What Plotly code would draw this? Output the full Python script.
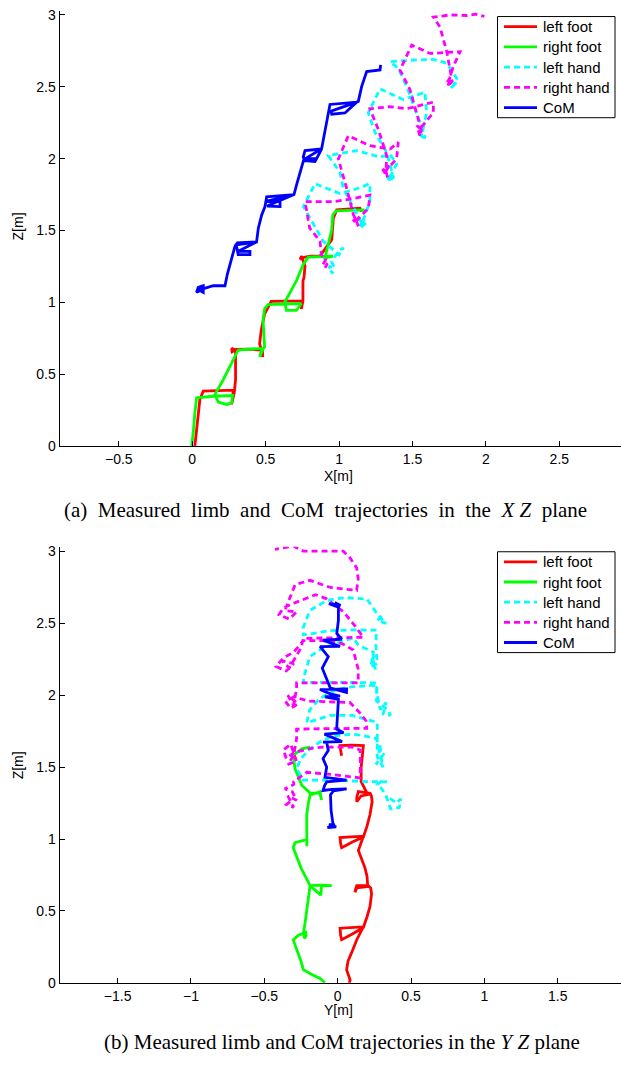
import plotly.graph_objects as go

# ---------------- measured trajectories, XZ plane (x [m], z [m]) ----------------
left_foot_xz = [
    (0.018, 0.0), (0.03, 0.117), (0.041, 0.232), (0.052, 0.323), (0.075, 0.381),
    (0.18, 0.385), (0.279, 0.388), (0.275, 0.33), (0.268, 0.289), (0.286, 0.37),
    (0.295, 0.461), (0.295, 0.668), (0.268, 0.679), (0.272, 0.655), (0.30, 0.672),
    (0.377, 0.674), (0.479, 0.668), (0.479, 0.62), (0.47, 0.66), (0.459, 0.714),
    (0.47, 0.805), (0.493, 0.92), (0.538, 1.007), (0.64, 1.008), (0.743, 1.01),
    (0.743, 0.954), (0.754, 1.01), (0.754, 1.149), (0.761, 1.172), (0.768, 1.253),
    (0.745, 1.321), (0.734, 1.298), (0.75, 1.31), (0.80, 1.321), (0.87, 1.321),
    (0.95, 1.436), (0.961, 1.585), (0.984, 1.643), (1.06, 1.65), (1.142, 1.654),
    (1.153, 1.63),
]
right_foot_xz = [
    (-0.004, 0.0), (0.007, 0.094), (0.018, 0.232), (0.03, 0.335), (0.143, 0.346),
    (0.275, 0.351), (0.268, 0.30), (0.234, 0.289), (0.177, 0.305), (0.154, 0.358),
    (0.211, 0.461), (0.268, 0.576), (0.313, 0.668), (0.40, 0.675), (0.484, 0.679),
    (0.459, 0.62), (0.47, 0.66), (0.493, 0.69), (0.482, 0.874), (0.493, 0.954),
    (0.516, 0.984), (0.63, 0.988), (0.743, 0.99), (0.709, 0.943), (0.641, 0.943),
    (0.63, 1.0), (0.675, 1.08), (0.709, 1.149), (0.756, 1.264), (0.79, 1.314),
    (0.88, 1.318), (0.961, 1.321), (0.904, 1.309), (0.927, 1.40), (0.95, 1.505),
    (0.957, 1.608), (0.98, 1.636), (1.07, 1.64), (1.165, 1.643), (1.176, 1.62),
]
left_hand_xz = [
    (0.94, 1.22), (0.96, 1.20), (0.93, 1.25), (0.97, 1.24), (0.95, 1.28),
    (0.995, 1.356), (1.03, 1.38), (1.0, 1.33), (0.892, 1.425), (0.802, 1.585),
    (0.757, 1.666), (0.836, 1.826), (1.006, 1.757), (1.12, 1.79), (1.21, 1.826),
    (1.21, 1.70), (1.16, 1.56), (1.14, 1.53), (1.17, 1.58), (1.15, 1.52),
    (1.18, 1.55), (1.154, 1.551), (1.029, 1.792), (1.006, 1.906), (0.926, 2.021),
    (1.12, 2.056), (1.279, 2.01), (1.347, 2.03), (1.392, 1.963), (1.35, 1.88),
    (1.33, 1.85), (1.36, 1.90), (1.34, 1.84), (1.37, 1.87), (1.324, 2.044),
    (1.245, 2.182), (1.199, 2.319), (1.279, 2.485), (1.437, 2.411), (1.585, 2.462),
    (1.596, 2.319), (1.57, 2.18), (1.56, 2.15), (1.59, 2.17), (1.58, 2.14),
    (1.57, 2.20), (1.46, 2.503), (1.403, 2.629), (1.347, 2.675), (1.50, 2.685),
    (1.642, 2.691), (1.733, 2.664), (1.801, 2.56), (1.78, 2.51), (1.76, 2.49),
    (1.79, 2.53), (1.80, 2.50), (1.775, 2.52),
]
right_hand_xz = [
    (0.905, 1.24), (0.92, 1.27), (0.89, 1.26), (0.91, 1.30), (0.88, 1.33),
    (0.87, 1.425), (0.80, 1.516), (0.768, 1.70), (0.86, 1.70), (0.961, 1.70),
    (1.09, 1.72), (1.21, 1.746), (1.205, 1.70), (1.199, 1.654), (1.13, 1.58),
    (1.11, 1.55), (1.14, 1.60), (1.10, 1.57), (1.13, 1.53), (1.12, 1.562),
    (1.098, 1.608), (1.052, 1.792), (0.995, 1.998), (1.063, 2.159), (1.14, 2.12),
    (1.21, 2.09), (1.347, 2.067), (1.403, 2.113), (1.392, 1.998), (1.33, 1.93),
    (1.31, 1.90), (1.34, 1.95), (1.30, 1.92), (1.33, 1.87), (1.32, 1.91),
    (1.324, 2.021), (1.267, 2.204), (1.21, 2.347), (1.347, 2.361), (1.46, 2.347),
    (1.642, 2.393), (1.642, 2.319), (1.56, 2.22), (1.54, 2.18), (1.57, 2.19),
    (1.53, 2.23), (1.55, 2.16), (1.56, 2.20), (1.483, 2.48), (1.415, 2.617),
    (1.495, 2.79), (1.619, 2.732), (1.824, 2.744), (1.778, 2.641), (1.75, 2.55),
    (1.73, 2.52), (1.76, 2.57), (1.74, 2.50), (1.77, 2.54), (1.733, 2.747),
    (1.687, 2.916), (1.642, 2.985), (1.755, 3.0), (1.869, 2.996), (1.93, 3.005),
    (1.99, 2.99),
]
com_xz = [
    (0.052, 1.081), (0.029, 1.069), (0.041, 1.104), (0.075, 1.115), (0.075, 1.069),
    (0.045, 1.085), (0.143, 1.115), (0.223, 1.115), (0.239, 1.195), (0.268, 1.31),
    (0.291, 1.39), (0.307, 1.413), (0.438, 1.42), (0.313, 1.355), (0.393, 1.355),
    (0.393, 1.332), (0.313, 1.332), (0.30, 1.40), (0.438, 1.42), (0.45, 1.516),
    (0.473, 1.608), (0.495, 1.665), (0.507, 1.734), (0.693, 1.75), (0.495, 1.70),
    (0.598, 1.70), (0.598, 1.666), (0.51, 1.67), (0.693, 1.75), (0.71, 1.815),
    (0.745, 1.952), (0.761, 1.998), (0.847, 2.0), (0.836, 1.98), (0.77, 1.985),
    (0.756, 2.01), (0.768, 2.056), (0.881, 2.067), (0.847, 2.0), (0.77, 2.0),
    (0.881, 2.067), (0.892, 2.124), (0.927, 2.297), (0.938, 2.377), (1.12, 2.393),
    (1.04, 2.318), (0.95, 2.309), (0.945, 2.33), (1.12, 2.393), (1.131, 2.398),
    (1.154, 2.503), (1.188, 2.606), (1.279, 2.617), (1.283, 2.652),
]

# ---------------- measured trajectories, YZ plane (y [m], z [m]) ----------------
left_foot_yz = [
    (0.079, 0.0), (0.085, 0.02), (0.061, 0.09), (0.07, 0.15), (0.095, 0.21),
    (0.13, 0.30), (0.175, 0.39), (0.10, 0.385), (0.016, 0.38), (0.02, 0.33),
    (0.027, 0.30), (0.10, 0.34), (0.175, 0.385), (0.20, 0.46), (0.22, 0.53),
    (0.231, 0.62), (0.225, 0.66), (0.208, 0.676), (0.13, 0.676), (0.12, 0.645),
    (0.118, 0.63), (0.13, 0.66), (0.205, 0.67), (0.20, 0.74), (0.186, 0.80),
    (0.141, 0.92), (0.16, 0.98), (0.175, 1.02), (0.09, 1.015), (0.016, 1.01),
    (0.02, 0.97), (0.027, 0.94), (0.10, 0.98), (0.175, 1.015), (0.20, 1.09),
    (0.22, 1.169), (0.235, 1.26), (0.23, 1.30), (0.221, 1.318), (0.141, 1.33),
    (0.13, 1.29), (0.13, 1.26), (0.16, 1.30), (0.205, 1.31), (0.16, 1.40),
    (0.16, 1.50), (0.17, 1.60), (0.175, 1.65), (0.10, 1.653), (0.016, 1.651),
    (0.02, 1.62), (0.027, 1.58),
]
right_foot_yz = [
    (-0.087, 0.0), (-0.12, 0.03), (-0.18, 0.06), (-0.234, 0.092), (-0.25, 0.15),
    (-0.269, 0.206), (-0.303, 0.298), (-0.27, 0.33), (-0.234, 0.344), (-0.22, 0.36),
    (-0.215, 0.33), (-0.225, 0.31), (-0.234, 0.344), (-0.223, 0.413), (-0.21, 0.50),
    (-0.20, 0.596), (-0.188, 0.676), (-0.11, 0.68), (-0.041, 0.676), (-0.11, 0.674),
    (-0.11, 0.64), (-0.115, 0.61), (-0.188, 0.676), (-0.25, 0.80), (-0.303, 0.94),
    (-0.291, 0.975), (-0.211, 0.997), (-0.21, 0.95), (-0.211, 0.997), (-0.211, 1.08),
    (-0.211, 1.169), (-0.20, 1.25), (-0.188, 1.307), (-0.121, 1.329), (-0.11, 1.272),
    (-0.121, 1.32), (-0.188, 1.32), (-0.245, 1.375), (-0.291, 1.49), (-0.303, 1.582),
    (-0.245, 1.628), (-0.188, 1.639),
]
left_hand_yz = [
    (0.357, 1.284), (0.40, 1.25), (0.43, 1.28), (0.42, 1.22), (0.36, 1.21),
    (0.33, 1.30), (0.30, 1.35), (0.27, 1.38), (0.31, 1.41), (0.334, 1.398),
    (0.20, 1.40), (0.10, 1.405), (-0.05, 1.41), (-0.234, 1.41), (-0.28, 1.49),
    (-0.25, 1.56), (-0.189, 1.628), (-0.10, 1.69), (-0.007, 1.72), (0.10, 1.73),
    (0.17, 1.72), (0.26, 1.70), (0.288, 1.65), (0.30, 1.55), (0.26, 1.52),
    (0.32, 1.60), (0.28, 1.62), (0.31, 1.50), (0.27, 1.57), (0.27, 1.70),
    (0.27, 1.811), (0.10, 1.86), (-0.05, 1.86), (-0.211, 1.81), (-0.19, 1.90),
    (-0.12, 1.98), (-0.007, 2.04), (0.10, 2.06), (0.265, 2.07), (0.265, 1.96),
    (0.30, 1.93), (0.34, 1.90), (0.36, 1.86), (0.31, 1.87), (0.33, 1.95),
    (0.29, 1.90), (0.27, 2.00), (0.265, 2.086), (0.10, 2.09), (-0.05, 2.09),
    (-0.234, 2.09), (-0.23, 2.13), (-0.189, 2.27), (-0.10, 2.33), (-0.007, 2.361),
    (0.106, 2.40), (0.14, 2.35), (0.243, 2.30), (0.24, 2.25), (0.26, 2.18),
    (0.23, 2.24), (0.25, 2.28), (0.22, 2.20), (0.27, 2.22), (0.26, 2.35),
    (0.265, 2.453), (0.10, 2.455), (-0.05, 2.45), (-0.234, 2.42), (-0.234, 2.476),
    (-0.19, 2.59), (-0.075, 2.66), (0.05, 2.68), (0.198, 2.67), (0.22, 2.64),
    (0.26, 2.58), (0.30, 2.53), (0.33, 2.50), (0.27, 2.52), (0.31, 2.56),
    (0.29, 2.54),
]
right_hand_yz = [
    (-0.325, 1.261), (-0.35, 1.24), (-0.30, 1.22), (-0.34, 1.30), (-0.28, 1.27),
    (-0.31, 1.33), (-0.36, 1.35), (-0.30, 1.38), (-0.30, 1.40), (-0.21, 1.465),
    (-0.05, 1.45), (0.152, 1.426), (0.155, 1.52), (0.152, 1.62), (0.10, 1.64),
    (-0.10, 1.64), (-0.19, 1.63), (-0.30, 1.60), (-0.35, 1.56), (-0.37, 1.62),
    (-0.32, 1.66), (-0.28, 1.54), (-0.34, 1.52), (-0.30, 1.58), (-0.28, 1.70),
    (-0.28, 1.765), (-0.10, 1.768), (0.10, 1.77), (0.198, 1.77), (0.195, 1.82),
    (0.15, 1.88), (0.083, 1.95), (-0.05, 1.955), (-0.20, 1.96), (-0.30, 1.99),
    (-0.35, 1.95), (-0.32, 1.91), (-0.27, 1.94), (-0.34, 2.00), (-0.30, 1.93),
    (-0.28, 2.05), (-0.28, 2.086), (-0.10, 2.086), (0.05, 2.086), (0.14, 2.086),
    (0.14, 2.18), (0.106, 2.315), (0.03, 2.36), (-0.10, 2.38), (-0.234, 2.38),
    (-0.30, 2.30), (-0.37, 2.26), (-0.42, 2.20), (-0.35, 2.17), (-0.30, 2.22),
    (-0.38, 2.24), (-0.33, 2.19), (-0.25, 2.33), (-0.234, 2.396), (-0.05, 2.40),
    (0.10, 2.40), (0.175, 2.404), (0.12, 2.48), (0.04, 2.58), (-0.075, 2.671),
    (-0.15, 2.70), (-0.30, 2.64), (-0.37, 2.61), (-0.40, 2.56), (-0.33, 2.53),
    (-0.28, 2.58), (-0.36, 2.59), (-0.29, 2.77), (-0.189, 2.80), (-0.05, 2.75),
    (0.129, 2.73), (0.14, 2.81), (0.129, 2.888), (0.083, 2.957), (0.038, 3.003),
    (-0.10, 3.003), (-0.234, 3.003), (-0.302, 3.038), (-0.427, 3.015),
]
com_yz = [
    (-0.041, 1.089), (-0.07, 1.08), (-0.01, 1.085), (-0.06, 1.10), (-0.02, 1.10),
    (-0.05, 1.075), (-0.03, 1.09), (-0.045, 1.20), (-0.049, 1.307), (-0.03, 1.335),
    (0.061, 1.349), (-0.04, 1.345), (-0.10, 1.338), (-0.09, 1.37), (-0.075, 1.398),
    (0.061, 1.41), (-0.087, 1.43), (-0.075, 1.50), (-0.10, 1.56), (-0.064, 1.617),
    (-0.075, 1.673), (-0.10, 1.675), (0.03, 1.678), (-0.09, 1.73), (0.04, 1.74),
    (-0.007, 1.765), (0.0, 1.86), (0.005, 1.972), (-0.087, 1.99), (0.016, 1.995),
    (-0.05, 2.01), (-0.121, 2.04), (0.061, 2.045), (0.06, 2.02), (-0.05, 2.05),
    (-0.075, 2.109), (-0.105, 2.189), (-0.064, 2.269), (-0.12, 2.338), (0.016, 2.34),
    (-0.10, 2.384), (0.027, 2.39), (-0.006, 2.43), (0.005, 2.522), (0.005, 2.613),
    (-0.06, 2.637), (0.02, 2.625), (-0.02, 2.645),
]

series_names = ["left foot", "right foot", "left hand", "right hand", "CoM"]
series_colors = ["#ff0000", "#00ff00", "#00ffff", "#ff00ff", "#0000ff"]
series_dash = ["solid", "solid", "6px,4px", "6px,4px", "solid"]

xz_series = [left_foot_xz, right_foot_xz, left_hand_xz, right_hand_xz, com_xz]
yz_series = [left_foot_yz, right_foot_yz, left_hand_yz, right_hand_yz, com_yz]

x_ticks = [-0.5, 0, 0.5, 1, 1.5, 2, 2.5]
y_ticks = [-1.5, -1, -0.5, 0, 0.5, 1, 1.5]
z_ticks = [0, 0.5, 1, 1.5, 2, 2.5, 3]

W, H = 621, 1065
LINE_W = 2.8
fig = go.Figure()

for pts, name, color, dash in zip(xz_series, series_names, series_colors, series_dash):
    fig.add_trace(go.Scatter(
        x=[p[0] for p in pts], y=[p[1] for p in pts], mode="lines", name=name,
        line=dict(color=color, width=LINE_W, dash=dash), xaxis="x", yaxis="y",
        showlegend=False))

for pts, name, color, dash in zip(yz_series, series_names, series_colors, series_dash):
    fig.add_trace(go.Scatter(
        x=[p[0] for p in pts], y=[p[1] for p in pts], mode="lines", name=name,
        line=dict(color=color, width=LINE_W, dash=dash), xaxis="x2", yaxis="y2",
        showlegend=False))

tick_font = dict(family="Liberation Sans, Arial, sans-serif", size=14, color="black")
axis_common = dict(showline=True, linecolor="black", linewidth=1, mirror=False,
                   ticks="inside", ticklen=5, tickcolor="black", tickwidth=1,
                   showgrid=False, zeroline=False, tickfont=tick_font, fixedrange=True)

x_left = 59.5 / W
top_dom = [(H - 447) / H, (H - 6.7) / H]
bot_dom = [(H - 990) / H, (H - 549) / H]

fig.update_layout(
    width=W, height=H, margin=dict(l=0, r=0, t=0, b=0),
    paper_bgcolor="white", plot_bgcolor="white", showlegend=False,
    xaxis=dict(domain=[x_left, 1], range=[-0.904, 2.92], tickvals=x_ticks,
               anchor="y", **axis_common),
    yaxis=dict(domain=top_dom, range=[0, 3.03], tickvals=z_ticks,
               anchor="x", **axis_common),
    xaxis2=dict(domain=[x_left, 1], range=[-1.896, 1.931], tickvals=y_ticks,
                anchor="y2", **axis_common),
    yaxis2=dict(domain=bot_dom, range=[0, 3.033], tickvals=z_ticks,
                anchor="x2", **axis_common),
)

label_font = dict(family="Liberation Sans, Arial, sans-serif", size=14, color="black")
legend_font = dict(family="Liberation Sans, Arial, sans-serif", size=15, color="black")
caption_font = dict(family="Liberation Serif, Times New Roman, serif", size=21, color="black")


def px_note(text, x, y, font, angle=0, xanchor="center"):
    fig.add_annotation(text=text, x=x / W, y=1 - y / H, xref="paper", yref="paper",
                       showarrow=False, font=font, textangle=angle,
                       xanchor=xanchor, yanchor="middle")


def px_line(x0, y0, x1, y1, color, width, dash="solid"):
    fig.add_shape(type="line", xref="paper", yref="paper",
                  x0=x0 / W, x1=x1 / W, y0=1 - y0 / H, y1=1 - y1 / H,
                  line=dict(color=color, width=width, dash=dash), layer="above")


def boxed_legend(top, bottom):
    # framed key in the upper-right corner of a panel (pixel coordinates)
    fig.add_shape(type="rect", xref="paper", yref="paper",
                  x0=497.5 / W, x1=615 / W, y0=1 - bottom / H, y1=1 - top / H,
                  line=dict(color="black", width=1), fillcolor="white", layer="above")
    step = (bottom - top) / 5
    for i, (name, color, dash) in enumerate(zip(series_names, series_colors, series_dash)):
        yc = top + step * (i + 0.5)
        px_line(504, yc, 537, yc, color, LINE_W, dash)
        px_note(name, 541, yc, legend_font, xanchor="left")


boxed_legend(12.7, 115)
boxed_legend(554, 656)

px_note("Z[m]", 18, 225, label_font, angle=-90)
px_note("X[m]", 338, 477, label_font)
px_note("Z[m]", 18, 770, label_font, angle=-90)
px_note("Y[m]", 338, 1017, label_font)

sp = "\u2002"
px_note(sp.join(["(a)", "Measured", "limb", "and", "CoM", "trajectories", "in", "the",
                 "<i>X Z</i>", "plane"]), 62, 512, caption_font, xanchor="left")
px_note("(b) Measured limb and CoM trajectories in the <i>Y Z</i> plane",
        102, 1050, caption_font, xanchor="left")

fig.write_html("out.html")
